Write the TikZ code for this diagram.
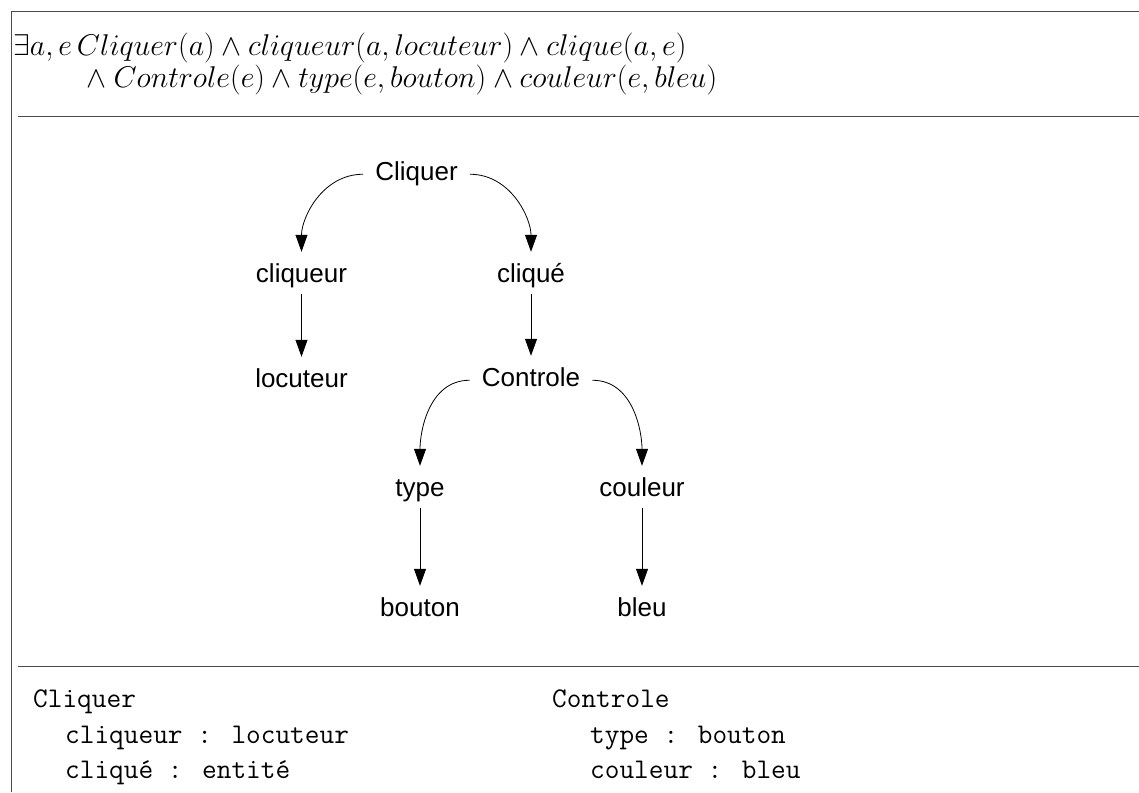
\RequirePackage{fix-cm}
\documentclass[tikz,border=0pt]{standalone}
\usepackage{fontspec}
\setsansfont{Liberation Sans}
\usetikzlibrary{arrows.meta}
\tikzset{
  gnode/.style={font=\fontsize{26}{30}\selectfont\sffamily, text height=19pt, text depth=5.5pt, inner xsep=12pt, inner ysep=5pt, anchor=base},
  garrow/.style={-{Triangle[length=17pt,width=12pt]}, line width=0.8pt, shorten >=7pt},
  frame/.style={line width=1pt, draw=black!70},
  mono/.style={font=\fontsize{28.5}{34}\selectfont\ttfamily, anchor=base west, inner sep=0pt},
  formula/.style={font=\fontsize{30}{36}\selectfont, anchor=base west, inner sep=0pt, text height=15pt, text depth=3pt}
}
\begin{document}
\begin{tikzpicture}[x=1pt,y=1pt]
\useasboundingbox (0,0) rectangle (1139,792);
% frame and dividers
\draw[frame] (11,0) -- (11,780) -- (1139,780);
\draw[frame] (18,675) -- (1139,675);
\draw[frame] (18,126) -- (1139,126);
% formula
\node[formula] (f1) at (13,736) {$\exists a, e\, Cliquer(a) \wedge cliqueur(a, locuteur) \wedge clique(a, e)$};
\node[formula] (f2) at (80,704) {${}\wedge Controle(e) \wedge type(e, bouton) \wedge couleur(e, bleu)$};
% graph
\node[gnode] (cliquer) at (416.5,611) {Cliquer};
\node[gnode] (cliqueur) at (301.5,509) {cliqueur};
\node[gnode] (clique) at (531,509) {cliqué};
\node[gnode] (locuteur) at (301.5,404) {locuteur};
\node[gnode] (controle) at (531,405) {Controle};
\node[gnode] (type) at (420,295) {type};
\node[gnode] (couleur) at (642,295) {couleur};
\node[gnode] (bouton) at (420,175) {bouton};
\node[gnode] (bleu) at (642,175) {bleu};
\draw[garrow] (cliquer.west) to[out=180,in=90] (cliqueur.north);
\draw[garrow] (cliquer.east) to[out=0,in=90] (clique.north);
\draw[garrow] (cliqueur.south) -- (locuteur.north);
\draw[garrow] (clique.south) -- (controle.north);
\draw[garrow] (controle.west) to[out=180,in=90] (type.north);
\draw[garrow] (controle.east) to[out=0,in=90] (couleur.north);
\draw[garrow] (type.south) -- (bouton.north);
\draw[garrow] (couleur.south) -- (bleu.north);
% frame text
\node[mono] (m1) at (33,85) {Cliquer};
\node[mono] (m2) at (65,49) {cliqueur : locuteur};
\node[mono] (m3) at (65,14) {cliqué : entité};
\node[mono] (m4) at (552,85) {Controle};
\node[mono] (m5) at (590,49) {type : bouton};
\node[mono] (m6) at (590,14) {couleur : bleu};
\end{tikzpicture}
\end{document}
